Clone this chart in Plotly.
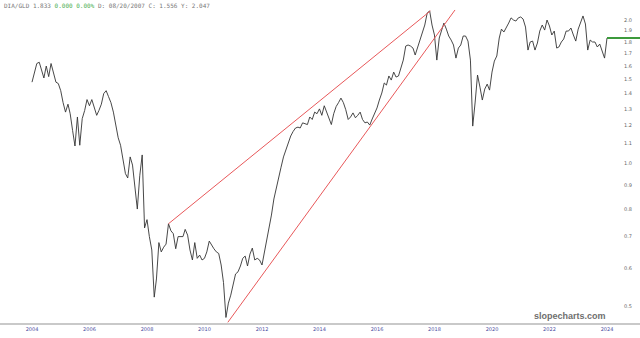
import pandas as pd
import plotly.graph_objects as go

# ---- data (monthly) ----
start_date = "2004-11-01"
ratio_values = [
    1.48, 1.54, 1.62, 1.63, 1.57, 1.51, 1.60, 1.52, 1.62, 1.54,
    1.48, 1.47, 1.42, 1.34, 1.28, 1.33, 1.27, 1.17, 1.086, 1.25,
    1.09, 1.24, 1.29, 1.36, 1.32, 1.36, 1.31, 1.26, 1.29, 1.33,
    1.40, 1.42, 1.38, 1.34, 1.28, 1.21, 1.13, 1.09, 1.015, 0.95,
    0.93, 1.03, 0.99, 0.88, 0.80, 0.94, 1.04, 0.73, 0.76, 0.70,
    0.656, 0.522, 0.57, 0.68, 0.65, 0.665, 0.675, 0.745, 0.72, 0.71,
    0.66, 0.70, 0.70, 0.70, 0.725, 0.705, 0.656, 0.625, 0.68, 0.63,
    0.64, 0.625, 0.63, 0.65, 0.685, 0.67, 0.66, 0.65, 0.645, 0.61,
    0.56, 0.473, 0.507, 0.527, 0.556, 0.584, 0.59, 0.607, 0.63, 0.637,
    0.607, 0.643, 0.662, 0.625, 0.63, 0.625, 0.61, 0.646, 0.682, 0.737,
    0.777, 0.84, 0.886, 0.944, 0.98, 1.03, 1.07, 1.11, 1.14, 1.165,
    1.185, 1.19, 1.185, 1.215, 1.21, 1.205, 1.25, 1.235, 1.28, 1.27,
    1.30, 1.26, 1.32, 1.28, 1.25, 1.205, 1.27, 1.315, 1.34, 1.37,
    1.34, 1.295, 1.235, 1.25, 1.275, 1.245, 1.26, 1.28, 1.235, 1.215,
    1.22, 1.202, 1.238, 1.268, 1.306, 1.357, 1.404, 1.474, 1.459, 1.525,
    1.495, 1.554, 1.517, 1.525, 1.584, 1.647, 1.763, 1.772, 1.763, 1.746,
    1.688, 1.755, 1.815, 1.887, 1.952, 2.07, 2.09, 1.952, 1.86, 1.647,
    1.833, 1.905, 1.971, 1.914, 1.851, 1.815, 1.772, 1.663, 1.746, 1.772,
    1.851, 1.851, 1.806, 1.647, 1.196, 1.344, 1.532, 1.445, 1.357, 1.431,
    1.466, 1.424, 1.554, 1.639, 1.68, 1.833, 1.914, 1.887, 1.924, 1.971,
    2.021, 2.00, 1.99, 2.021, 2.03, 2.01, 1.933, 1.729, 1.798, 1.806,
    1.729, 1.789, 1.896, 1.952, 1.905, 2.00, 1.943, 1.86, 1.896, 1.746,
    1.755, 1.798, 1.824, 1.896, 1.896, 1.924, 1.86, 1.806, 1.914, 1.981,
    2.04, 1.962, 1.729, 1.815, 1.798, 1.798, 1.755, 1.78, 1.712, 1.663,
    1.833,
]
dates = pd.date_range(start_date, periods=len(ratio_values), freq="MS")

# trendlines (date, value) pairs
upper_trend_dates = ["2009-08-01", "2018-09-10"]
upper_trend_values = [0.745, 2.09]
lower_trend_dates = ["2011-08-25", "2019-07-20"]
lower_trend_values = [0.462, 2.10]

x_tick_dates = [f"{y}-11-01" for y in range(2004, 2025, 2)]
x_tick_labels = [str(y) for y in range(2004, 2025, 2)]
y_tick_values = [0.5, 0.6, 0.7, 0.8, 0.9, 1.0, 1.1, 1.2, 1.3, 1.4, 1.5, 1.6, 1.7, 1.8, 1.9, 2.0]
y_tick_labels = [f"{v:.1f}" for v in y_tick_values]

header_text = ("DIA/GLD 1.833 <span style='color:#4caf50'>0.000 0.00%</span> "
               "D: 08/20/2007 C: 1.556 Y: 2.047")

# ---- layout geometry ----
W, H = 640, 338
px_per_year = 28.75
first_px = 32
t0 = pd.Timestamp(start_date)
days_per_px = 365.25 / px_per_year
x_lo = t0 - pd.Timedelta(days=first_px * days_per_px)
x_hi = t0 + pd.Timedelta(days=(W - first_px) * days_per_px)

fig = go.Figure()
fig.add_trace(go.Scatter(x=dates, y=ratio_values, mode="lines",
                         line=dict(color="#333333", width=0.9), hoverinfo="skip"))
fig.add_trace(go.Scatter(x=upper_trend_dates, y=upper_trend_values, mode="lines",
                         line=dict(color="#e8585a", width=1)))
fig.add_trace(go.Scatter(x=lower_trend_dates, y=lower_trend_values, mode="lines",
                         line=dict(color="#e8585a", width=1)))
fig.add_trace(go.Scatter(x=[dates[-1], x_hi], y=[ratio_values[-1]] * 2, mode="lines",
                         line=dict(color="#3c9a3c", width=2)))

fig.update_layout(
    width=W, height=H,
    margin=dict(l=0, r=0, t=0, b=15),
    paper_bgcolor="white", plot_bgcolor="white",
    showlegend=False,
    xaxis=dict(type="date", range=[x_lo, x_hi], tickvals=x_tick_dates, ticktext=x_tick_labels,
               showgrid=False, zeroline=False, showline=True, linecolor="#c9c9c9", linewidth=2,
               ticks="", tickfont=dict(size=5, color="#4b4ba0", family="DejaVu Sans")),
    yaxis=dict(type="log", range=[-0.3368, 0.3432], tickvals=y_tick_values, ticktext=y_tick_labels,
               side="right", ticklabelposition="inside", ticklabelstandoff=5,
               showgrid=False, zeroline=False, showline=False, ticks="",
               tickfont=dict(size=5, color="#666666", family="DejaVu Sans")),
    annotations=[
        dict(text=header_text, xref="paper", yref="paper", x=0.003, y=1.0,
             xanchor="left", yanchor="top", showarrow=False,
             font=dict(family="DejaVu Sans Mono", size=6, color="#777777")),
        dict(text="<b>slopecharts.com</b>", xref="paper", yref="paper",
             x=608 / W, y=0.0, xanchor="right", yanchor="bottom", showarrow=False,
             font=dict(family="Liberation Sans", size=9, color="#6e6e6e")),
    ],
)

fig.write_html("out.html")
